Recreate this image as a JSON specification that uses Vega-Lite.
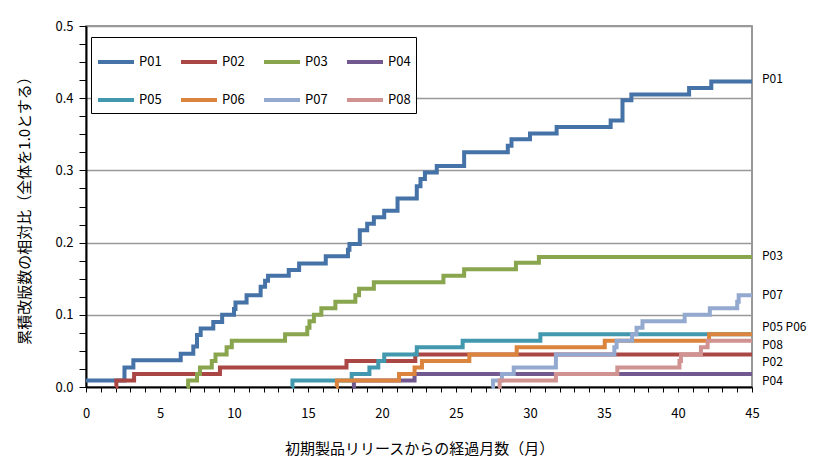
{
  "$schema": "https://vega.github.io/schema/vega-lite/v6.json",
  "autosize": {"type": "none"},
  "width": 666,
  "height": 361,
  "padding": {"left": 86, "top": 26, "right": 68, "bottom": 77},
  "background": "white",
  "config": {
    "font": "Noto Sans CJK JP",
    "view": {"stroke": "#777", "strokeWidth": 1.5},
    "axis": {"labelFont": "Noto Sans CJK JP", "titleFont": "Noto Sans CJK JP", "titleFontWeight": "normal", "labelColor": "#000", "titleColor": "#000"}
  },
  "datasets": {
    "lines": [
      {"s":"P01","m":0,"v":0.009},{"s":"P01","m":2.6,"v":0.027},{"s":"P01","m":3.2,"v":0.037},{"s":"P01","m":6.4,"v":0.046},{"s":"P01","m":7.25,"v":0.056},{"s":"P01","m":7.5,"v":0.072},{"s":"P01","m":7.75,"v":0.081},{"s":"P01","m":8.6,"v":0.09},{"s":"P01","m":9.2,"v":0.1},{"s":"P01","m":10.0,"v":0.108},{"s":"P01","m":10.1,"v":0.117},{"s":"P01","m":10.85,"v":0.127},{"s":"P01","m":11.8,"v":0.139},{"s":"P01","m":12.1,"v":0.147},{"s":"P01","m":12.3,"v":0.154},{"s":"P01","m":13.7,"v":0.162},{"s":"P01","m":14.4,"v":0.171},{"s":"P01","m":16.2,"v":0.181},{"s":"P01","m":17.7,"v":0.19},{"s":"P01","m":17.8,"v":0.198},{"s":"P01","m":18.5,"v":0.217},{"s":"P01","m":19.0,"v":0.226},{"s":"P01","m":19.45,"v":0.235},{"s":"P01","m":20.15,"v":0.244},{"s":"P01","m":21.05,"v":0.261},{"s":"P01","m":22.35,"v":0.278},{"s":"P01","m":22.6,"v":0.288},{"s":"P01","m":22.9,"v":0.297},{"s":"P01","m":23.7,"v":0.306},{"s":"P01","m":25.55,"v":0.325},{"s":"P01","m":28.5,"v":0.334},{"s":"P01","m":28.75,"v":0.343},{"s":"P01","m":30.0,"v":0.351},{"s":"P01","m":31.8,"v":0.36},{"s":"P01","m":35.45,"v":0.369},{"s":"P01","m":36.25,"v":0.397},{"s":"P01","m":36.85,"v":0.405},{"s":"P01","m":40.75,"v":0.414},{"s":"P01","m":42.25,"v":0.423},{"s":"P01","m":45,"v":0.423},
      {"s":"P02","m":2.0,"v":0},{"s":"P02","m":2.05,"v":0.009},{"s":"P02","m":3.25,"v":0.018},{"s":"P02","m":9.05,"v":0.027},{"s":"P02","m":17.6,"v":0.036},{"s":"P02","m":22.25,"v":0.045},{"s":"P02","m":45,"v":0.045},
      {"s":"P03","m":6.8,"v":0},{"s":"P03","m":6.9,"v":0.009},{"s":"P03","m":7.5,"v":0.018},{"s":"P03","m":7.7,"v":0.027},{"s":"P03","m":8.5,"v":0.036},{"s":"P03","m":8.75,"v":0.045},{"s":"P03","m":9.5,"v":0.055},{"s":"P03","m":9.85,"v":0.064},{"s":"P03","m":13.45,"v":0.073},{"s":"P03","m":14.95,"v":0.082},{"s":"P03","m":15.1,"v":0.091},{"s":"P03","m":15.4,"v":0.1},{"s":"P03","m":15.9,"v":0.109},{"s":"P03","m":16.85,"v":0.118},{"s":"P03","m":18.2,"v":0.127},{"s":"P03","m":18.45,"v":0.136},{"s":"P03","m":19.45,"v":0.145},{"s":"P03","m":24.15,"v":0.154},{"s":"P03","m":25.55,"v":0.163},{"s":"P03","m":29.05,"v":0.172},{"s":"P03","m":30.6,"v":0.18},{"s":"P03","m":45,"v":0.18},
      {"s":"P04","m":18.0,"v":0},{"s":"P04","m":18.1,"v":0.009},{"s":"P04","m":22.2,"v":0.018},{"s":"P04","m":45,"v":0.018},
      {"s":"P05","m":13.9,"v":0},{"s":"P05","m":13.95,"v":0.009},{"s":"P05","m":17.95,"v":0.018},{"s":"P05","m":19.15,"v":0.027},{"s":"P05","m":19.75,"v":0.036},{"s":"P05","m":20.15,"v":0.045},{"s":"P05","m":22.35,"v":0.055},{"s":"P05","m":25.45,"v":0.064},{"s":"P05","m":30.7,"v":0.073},{"s":"P05","m":45,"v":0.073},
      {"s":"P06","m":16.9,"v":0},{"s":"P06","m":16.95,"v":0.009},{"s":"P06","m":21.15,"v":0.018},{"s":"P06","m":22.2,"v":0.027},{"s":"P06","m":22.7,"v":0.036},{"s":"P06","m":25.9,"v":0.045},{"s":"P06","m":29.1,"v":0.055},{"s":"P06","m":35.05,"v":0.064},{"s":"P06","m":42.1,"v":0.073},{"s":"P06","m":45,"v":0.073},
      {"s":"P07","m":27.4,"v":0},{"s":"P07","m":27.5,"v":0.009},{"s":"P07","m":28.1,"v":0.018},{"s":"P07","m":28.9,"v":0.027},{"s":"P07","m":31.75,"v":0.045},{"s":"P07","m":35.7,"v":0.055},{"s":"P07","m":35.85,"v":0.064},{"s":"P07","m":36.9,"v":0.073},{"s":"P07","m":37.2,"v":0.082},{"s":"P07","m":37.6,"v":0.091},{"s":"P07","m":40.45,"v":0.1},{"s":"P07","m":42.15,"v":0.109},{"s":"P07","m":44.0,"v":0.118},{"s":"P07","m":44.1,"v":0.127},{"s":"P07","m":45,"v":0.127},
      {"s":"P08","m":27.85,"v":0},{"s":"P08","m":27.95,"v":0.009},{"s":"P08","m":31.75,"v":0.018},{"s":"P08","m":35.9,"v":0.027},{"s":"P08","m":40.1,"v":0.036},{"s":"P08","m":40.2,"v":0.045},{"s":"P08","m":41.55,"v":0.055},{"s":"P08","m":42.0,"v":0.064},{"s":"P08","m":45,"v":0.064}
    ],
    "labels": [
      {"t":"P01","m":45,"v":0.427},
      {"t":"P03","m":45,"v":0.181},
      {"t":"P07","m":45,"v":0.127},
      {"t":"P05  P06","m":45,"v":0.083},
      {"t":"P08","m":45,"v":0.058},
      {"t":"P02","m":45,"v":0.034},
      {"t":"P04","m":45,"v":0.009}
    ]
  },
  "encoding": {
    "x": {
      "field": "m", "type": "quantitative",
      "scale": {"domain": [0, 45], "nice": false},
      "axis": {
        "title": "初期製品リリースからの経過月数（月）",
        "titleFontSize": 15, "titlePadding": 21,
        "values": [0,1,2,3,4,5,6,7,8,9,10,11,12,13,14,15,16,17,18,19,20,21,22,23,24,25,26,27,28,29,30,31,32,33,34,35,36,37,38,39,40,41,42,43,44,45],
        "labelExpr": "datum.value % 5 == 0 ? format(datum.value, 'd') : ''",
        "labelOverlap": false, "labelBound": false, "labelFlush": false,
        "labelFontSize": 13, "labelPadding": 15,
        "ticks": true, "tickSize": 5, "tickColor": "#000", "tickWidth": 1,
        "domainColor": "#000", "domainWidth": 2,
        "grid": false
      }
    },
    "y": {
      "field": "v", "type": "quantitative",
      "scale": {"domain": [0, 0.5], "nice": false},
      "axis": {
        "title": "累積改版数の相対比（全体を1.0とする）",
        "titleFontSize": 15, "titlePadding": 22,
        "values": [0,0.025,0.05,0.075,0.1,0.125,0.15,0.175,0.2,0.225,0.25,0.275,0.3,0.325,0.35,0.375,0.4,0.425,0.45,0.475,0.5],
        "labelExpr": "abs(datum.value*10 - round(datum.value*10)) < 0.001 ? format(datum.value, '.1f') : ''",
        "labelOverlap": false,
        "labelFontSize": 13, "labelPadding": 6,
        "ticks": true, "tickSize": 7, "tickColor": "#000", "tickWidth": 1,
        "domainColor": "#000", "domainWidth": 2,
        "grid": true, "gridColor": "#999", "gridWidth": 1.5,
        "gridOpacity": {"condition": {"test": "abs(datum.value*10 - round(datum.value*10)) < 0.001 && datum.value > 0", "value": 1}, "value": 0}
      }
    }
  },
  "layer": [
    {
      "data": {"name": "lines"},
      "mark": {"type": "line", "interpolate": "step-after", "strokeWidth": 4, "strokeCap": "butt"},
      "encoding": {
        "color": {
          "field": "s", "type": "nominal",
          "scale": {
            "domain": ["P01","P02","P03","P04","P05","P06","P07","P08"],
            "range": ["#4572A7","#AA4643","#89A54E","#71588F","#4198AF","#DB843D","#93A9CF","#D19392"]
          },
          "legend": {
            "orient": "none", "legendX": 5, "legendY": 11,
            "direction": "horizontal", "columns": 4,
            "title": null,
            "symbolType": "stroke", "symbolSize": 1296, "symbolStrokeWidth": 4,
            "labelFont": "Noto Sans CJK JP", "labelFontSize": 13, "labelColor": "#000", "labelOffset": 3,
            "columnPadding": 11, "rowPadding": 10,
            "padding": 5,
            "strokeColor": "#000", "fillColor": "white"
          }
        }
      }
    },
    {
      "data": {"name": "labels"},
      "mark": {"type": "text", "align": "left", "baseline": "middle", "dx": 10, "fontSize": 12, "color": "#000", "font": "Noto Sans CJK JP"},
      "encoding": {
        "text": {"field": "t"}
      }
    }
  ]
}
